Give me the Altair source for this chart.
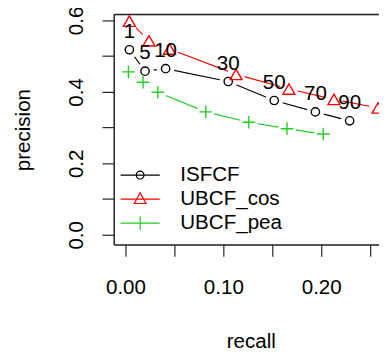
import altair as alt
import pandas as pd

series_names = ["ISFCF", "UBCF_cos", "UBCF_pea"]
series_colors = ["#000000", "#ff0000", "#22cc22"]
n_labels = ["1", "5", "10", "30", "50", "70", "90"]

recall_isfcf = [0.004, 0.020, 0.041, 0.105, 0.152, 0.194, 0.229]
prec_isfcf = [0.518, 0.458, 0.465, 0.429, 0.376, 0.344, 0.319]
recall_cos = [0.004, 0.024, 0.045, 0.113, 0.167, 0.213, 0.258]
prec_cos = [0.598, 0.543, 0.520, 0.449, 0.408, 0.379, 0.355]
recall_pea = [0.003, 0.018, 0.033, 0.082, 0.126, 0.165, 0.202]
prec_pea = [0.456, 0.427, 0.399, 0.344, 0.315, 0.297, 0.282]

x_ticks = [0.0, 0.05, 0.10, 0.15, 0.20, 0.25]
y_ticks = [0.0, 0.1, 0.2, 0.3, 0.4, 0.5, 0.6]

rows = []
for name, rs, ps in [("ISFCF", recall_isfcf, prec_isfcf),
                     ("UBCF_cos", recall_cos, prec_cos),
                     ("UBCF_pea", recall_pea, prec_pea)]:
    for i, (r, p) in enumerate(zip(rs, ps)):
        rows.append({"series": name, "idx": i, "recall": r, "precision": p, "label": n_labels[i]})
df = pd.DataFrame(rows)

FONT = "Liberation Sans"
FS = 21
W, H = 271, 235

xs = alt.Scale(domain=[-0.012, 0.259], nice=False, zero=False)
ys = alt.Scale(domain=[-0.0274, 0.6164], nice=False, zero=False)

x_axis = alt.Axis(values=x_ticks, grid=False, domain=True, domainColor="#222", domainWidth=1.5,
                  ticks=True, tickColor="#222", tickWidth=1.2, tickSize=12,
                  labelExpr="round(datum.value*100) % 10 == 0 ? format(datum.value, '.2f') : ''",
                  labelFont=FONT, labelFontSize=FS, labelColor="black", labelBaseline="alphabetic",
                  labelPadding=38, labelFlush=False, labelOverlap=False,
                  title="recall", titleFont=FONT, titleFontSize=FS, titleFontWeight="normal",
                  titleColor="black", titleX=140, titleY=105, titleBaseline="alphabetic", titleAlign="center")
y_axis = alt.Axis(values=y_ticks, grid=False, domain=True, domainColor="#222", domainWidth=1.5,
                  ticks=True, tickColor="#222", tickWidth=1.2, tickSize=12,
                  labelExpr="round(datum.value*10) % 2 == 0 ? format(datum.value, '.1f') : ''",
                  labelFont=FONT, labelFontSize=FS, labelColor="black", labelAngle=-90,
                  labelAlign="center", labelBaseline="alphabetic", labelPadding=20,
                  labelFlush=False, labelOverlap=False,
                  title="precision", titleFont=FONT, titleFontSize=FS, titleFontWeight="normal",
                  titleColor="black", titleX=-86, titleY=117.5, titleAngle=270,
                  titleBaseline="alphabetic", titleAlign="center")

X = alt.X("recall:Q", scale=xs, axis=x_axis)
Y = alt.Y("precision:Q", scale=ys, axis=y_axis)
cscale = alt.Scale(domain=series_names, range=series_colors)

base = alt.Chart(df)

lines = base.mark_line(strokeWidth=1.2).encode(
    x=X, y=Y, color=alt.Color("series:N", scale=cscale, legend=None), order=alt.Order("idx:Q"))

masks = base.mark_point(filled=True, color="white", opacity=1, size=330, shape="circle").encode(x=X, y=Y)

marker_shapes = ["circle", "triangle-up", "M-1,0H1M0,-1V1"]
marker_sizes = [72, 150, 169]
marker_layers = []
for name, col, shp, sz in zip(series_names, series_colors, marker_shapes, marker_sizes):
    marker_layers.append(
        base.transform_filter(alt.datum.series == name).mark_point(
            filled=False, shape=shp, size=sz, color=col, strokeWidth=1.4, opacity=1
        ).encode(x=X, y=Y)
    )

texts = base.transform_filter(alt.datum.series == "ISFCF").mark_text(
    font=FONT, fontSize=FS, color="black", baseline="alphabetic", align="center", dy=-12
).encode(x=X, y=Y, text="label:N")

legend_paths = [
    "M-2,0H2M-0.4,0A0.4,0.4,0,1,0,0.4,0A0.4,0.4,0,1,0,-0.4,0",
    "M-2,0H2M0,-0.65L-0.6,0.45L0.6,0.45Z",
    "M-2,0H2M0,-0.7V0.7",
]
leg = alt.Legend(orient="none", legendX=16, legendY=153, padding=0, title=None,
                 symbolSize=400, symbolStrokeWidth=1.2, symbolFillColor="transparent",
                 labelFont=FONT, labelFontSize=FS, labelColor="black", labelOffset=30,
                 rowPadding=3.5, labelLimit=300)
legend_layer = base.transform_filter("false").mark_point(filled=False, opacity=1).encode(
    x=X, y=Y,
    color=alt.Color("series:N", scale=cscale, legend=leg),
    shape=alt.Shape("series:N", scale=alt.Scale(domain=series_names, range=legend_paths), legend=leg),
)

top_border = alt.Chart(pd.DataFrame({"a": [0]})).mark_rule(color="#222", strokeWidth=1.5).encode(
    x=alt.value(0), x2=alt.value(W), y=alt.value(0))

chart = alt.layer(lines, masks, *marker_layers, texts, legend_layer, top_border).resolve_scale(
    color="independent", shape="independent"
).properties(
    width=W, height=H,
    autosize=alt.AutoSizeParams(type="none"),
    padding={"left": 108, "top": 3, "right": 0, "bottom": 106},
).configure_view(stroke=None).configure(background="white")

chart.save("out.html", embed_options={"renderer": "svg", "actions": False})
